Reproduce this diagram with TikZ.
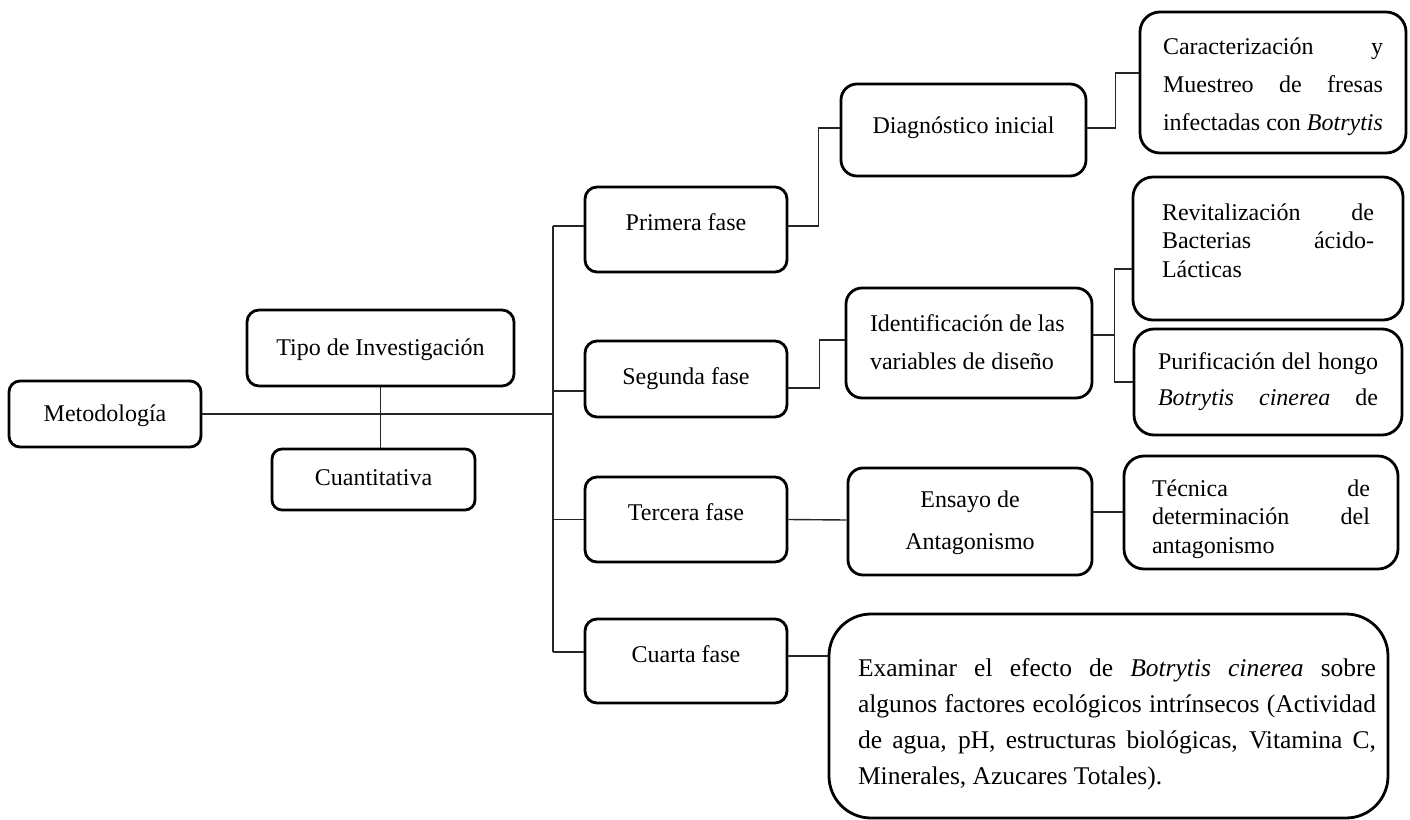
\documentclass[tikz,border=0pt]{standalone}
\usepackage{fontspec}
\setmainfont{Liberation Serif}
\usetikzlibrary{calc}
\newcommand\jl[1]{\makebox[\linewidth][s]{#1}}
\tikzset{
  bx/.style={draw, line width=1.4pt, rounded corners=#1, inner sep=0pt},
  bx/.default=6pt,
  dn/.style={text height=#1, text depth=0pt},
  up/.style={text height=0pt, text depth=#1},
  ln/.style={line width=0.7pt, draw=black!85},
}
\begin{document}
\begin{tikzpicture}[x=0.5pt, y=-0.5pt, every node/.style={font=\fontsize{12}{14}\selectfont}]
\path[fill=white, use as bounding box] (0,0) rectangle (1410,820);

% level 0 / 1
\node[bx=5.5pt, minimum width=96pt, minimum height=33pt, dn=7pt] (met) at (105,414) {Metodología};
\node[bx=6pt, minimum width=133.5pt, minimum height=38pt, dn=7pt] (tipo) at (380.5,348) {Tipo de Investigación};
\node[bx=5pt, minimum width=101.5pt, minimum height=30.5pt, dn=5.5pt] (cuan) at (373.5,479.5) {Cuantitativa};

% phases
\node[bx=6pt, minimum width=101pt, minimum height=42.5pt, dn=0.5pt] (prim) at (686,229.5) {Primera fase};
\node[bx=6pt, minimum width=101pt, minimum height=38pt, dn=5pt] (seg) at (686,379) {Segunda fase};
\node[bx=6pt, minimum width=101pt, minimum height=42.5pt, dn=0.5pt] (ter) at (686,519.5) {Tercera fase};
\node[bx=6pt, minimum width=101pt, minimum height=42pt, dn=1pt] (cua) at (686,661) {Cuarta fase};

% second level
\node[bx=8pt, minimum width=122.5pt, minimum height=46pt, dn=3pt] (diag) at (963.5,130) {Diagnóstico inicial};
\node[bx=8pt, minimum width=123pt, minimum height=55pt, up=12pt] (ident) at (969,343)
  {\parbox[t]{99pt}{\raggedright\fontsize{12}{19}\selectfont Identificación de las\\variables de diseño}};
\node[bx=7.5pt, minimum width=122pt, minimum height=53.5pt, up=14.5pt] (ens) at (970,521.5)
  {\parbox[t]{120pt}{\centering\fontsize{12}{21}\selectfont Ensayo de\\Antagonismo}};
\node[bx=21pt, minimum width=279.5pt, minimum height=102pt, up=40pt] (exam) at (1108.5,716)
  {\hspace*{8.5pt}\parbox[t]{259pt}{\fontsize{12.75}{18}\selectfont
   \jl{Examinar el efecto de \textit{Botrytis cinerea} sobre}\\
   \jl{algunos factores ecológicos intrínsecos (Actividad}\\
   \jl{de agua, pH, estructuras biológicas, Vitamina C,}\\
   Minerales, Azucares Totales).}};

% third level
\node[bx=10pt, minimum width=133pt, minimum height=70.5pt, up=28.5pt] (carac) at (1273,82.5)
  {\parbox[t]{110pt}{\fontsize{12}{19}\selectfont
   \jl{Caracterización y}\\\jl{Muestreo de fresas}\\infectadas con \textit{Botrytis}}};
\node[bx=10pt, minimum width=135pt, minimum height=71.5pt, up=28.5pt] (revit) at (1268,248.5)
  {\parbox[t]{106pt}{\fontsize{12}{14.25}\selectfont
   \jl{Revitalización de}\\\jl{Bacterias ácido-}\\Lácticas}};
\node[bx=10pt, minimum width=134pt, minimum height=53pt, up=13pt] (purif) at (1268,382)
  {\parbox[t]{110pt}{\fontsize{12}{18}\selectfont
   \jl{Purificación del hongo}\\\jl{\textit{Botrytis} \textit{cinerea} de}}};
\node[bx=10pt, minimum width=137pt, minimum height=56.5pt, up=16.5pt] (tec) at (1261,512.5)
  {\parbox[t]{109pt}{\fontsize{12}{14.25}\selectfont
   \jl{Técnica de}\\\jl{determinación del}\\antagonismo}};

% connectors
\coordinate (tt) at (553,226);
\coordinate (tb) at (553,652);
\draw[ln] (tt) -- (tb);
\draw[ln] (met.east) -- (met.east -| tt);
\draw[ln] (tipo.south) -- (tipo.south |- cuan.north);
\draw[ln] (tt) -- (tt -| prim.west);
\draw[ln] ([yshift=-6pt]seg.west) -- ([yshift=-6pt]seg.west -| tt);
\draw[ln] (ter.west) -- (ter.west -| tt);
\draw[ln] (tb) -- (tb -| cua.west);
\draw[ln] ([yshift=1.75pt]prim.east) -- ++(30,0) |- ([yshift=1pt]diag.west);
\draw[ln] ([yshift=-4.5pt]seg.east) -- ++(31,0) |- ([yshift=1.5pt]ident.west);
\draw[ln] (ter.east) -- ([yshift=0.75pt]ens.west);
\draw[ln] ([yshift=2.5pt]cua.east) -- ([yshift=2.5pt]cua.east -| exam.west);
\draw[ln] ([yshift=1pt]diag.east) -- ++(28,0) |- ([yshift=4.75pt]carac.west);
\draw[ln] ([yshift=4pt]ident.east) -- ++(21,0) coordinate (j);
\draw[ln] ([yshift=-10.25pt]revit.west) -| (j) |- (purif.west);
\draw[ln] ([yshift=4.75pt]ens.east) -- ([yshift=4.75pt]ens.east -| tec.west);
\end{tikzpicture}
\end{document}
